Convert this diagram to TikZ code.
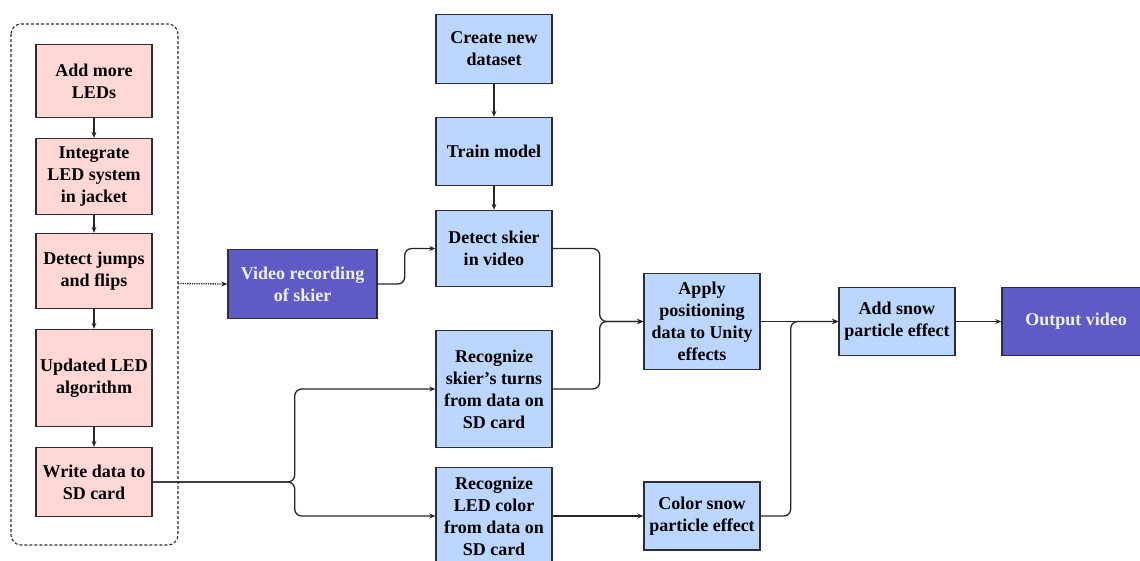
\documentclass[tikz,border=0pt]{standalone}
\usepackage{fontspec}
\setmainfont{Liberation Serif}
\usetikzlibrary{arrows.meta,calc}

\definecolor{pinkfill}{RGB}{255,216,214}
\definecolor{bluefill}{RGB}{188,215,255}
\definecolor{purplefill}{RGB}{94,90,198}
\definecolor{edge}{RGB}{45,45,50}
\definecolor{lighttext}{RGB}{240,240,252}

\tikzset{
  box/.style={draw=edge, line width=1.4pt, align=center, inner sep=2pt,
    font=\fontsize{18}{22}\selectfont\bfseries, text=black},
  pinkbox/.style={box, fill=pinkfill, minimum width=116pt},
  bluebox/.style={box, fill=bluefill, minimum width=116pt},
  darkbox/.style={box, fill=purplefill, text=lighttext},
  conn/.style={draw=black!85, line width=1.3pt, rounded corners=7pt,
    -{Stealth[length=6pt,width=5pt]}},
}

\begin{document}
\begin{tikzpicture}[x=1pt,y=-1pt]
\useasboundingbox (0,0) rectangle (1140,560);

% hardware group
\draw[edge, line width=1.1pt, dash pattern=on 3pt off 2pt, rounded corners=10pt] (11,24) rectangle (178,545);

\node[pinkbox, minimum height=73pt] (leds)  at (94,81)    {Add more\\LEDs};
\node[pinkbox, minimum height=76pt] (integ) at (94,176.5) {Integrate\\LED system\\in jacket};
\node[pinkbox, minimum height=75pt] (jumps) at (94,271)   {Detect jumps\\and flips};
\node[pinkbox, minimum height=97pt] (algo)  at (94,378)   {Updated LED\\algorithm};
\node[pinkbox, minimum height=69pt] (write) at (94,482)   {Write data to\\SD card};

\coordinate (grp) at (178,283.5);

% video pipeline
\node[darkbox, minimum width=149pt, minimum height=69pt] (video) at (302.5,284) {Video recording\\of skier};

\node[bluebox, minimum height=69pt]  (create) at (494,49)    {Create new\\dataset};
\node[bluebox, minimum height=68pt]  (train)  at (494,151.5) {Train model};
\node[bluebox, minimum height=76pt]  (detect) at (494,248.5) {Detect skier\\in video};
\node[bluebox, minimum height=117pt] (turns)  at (494,389)   {Recognize\\skier’s turns\\from data on\\SD card};
\node[bluebox, minimum height=97pt]  (color)  at (494,516)   {Recognize\\LED color\\from data on\\SD card};

\node[bluebox, minimum height=96pt] (apply) at (702,321.5) {Apply\\positioning\\data to Unity\\effects};
\node[bluebox, minimum height=68pt] (csnow) at (702,516)   {Color snow\\particle effect};
\node[bluebox, minimum height=68pt] (asnow) at (897,321.5) {Add snow\\particle effect};
\node[darkbox, minimum width=148pt, minimum height=68pt] (out) at (1076,321.5) {Output video};

% connectors
\draw[conn] (leds) -- (integ);
\draw[conn] (integ) -- (jumps);
\draw[conn] (jumps) -- (algo);
\draw[conn] (algo) -- (write);

\draw[conn, densely dotted] (grp) -- (video.west);

\draw[conn] (create) -- (train);
\draw[conn] (train) -- (detect);

\draw[conn] (video.east) -- ++(27,0) |- (detect.west);
\draw[conn] (detect.east) -- ++(47,0) |- (apply.west);
\draw[conn] (turns.east) -- ++(47,0) |- (apply.west);

\draw[conn] (write.east) -- ++(142,0) |- (turns.west);
\draw[conn] (write.east) -- ++(142,0) |- (color.west);

\draw[conn] (color.east) -- (csnow.west);
\draw[conn] (apply.east) -- (asnow.west);
\draw[conn] (csnow.east) -- ++(30,0) |- (asnow.west);
\draw[conn] (asnow.east) -- (out.west);
\end{tikzpicture}
\end{document}
